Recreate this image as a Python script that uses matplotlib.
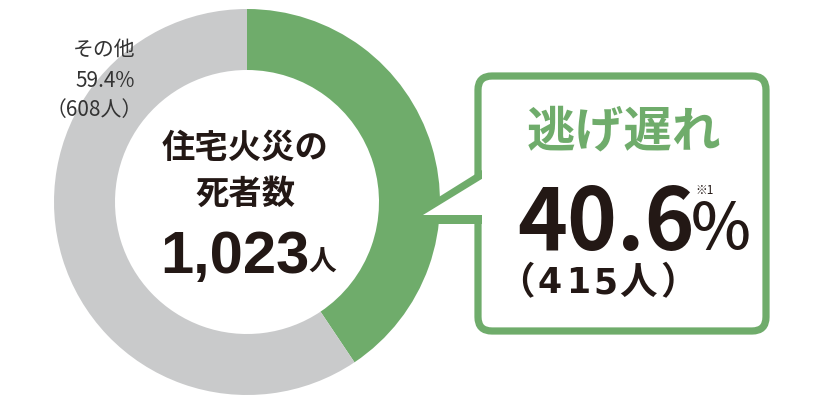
import matplotlib
matplotlib.use('Agg')
import matplotlib.pyplot as plt
from matplotlib.patches import FancyBboxPatch, Polygon

plt.rcParams['font.family'] = ['Noto Sans CJK JP', 'DejaVu Sans']

# data
labels = ['逃げ遅れ', 'その他']
shares = [40.6, 59.4]
counts = [415, 608]
total = 1023
title_lines = ['住宅火災の', '死者数']

green = '#6fac6b'
grey = '#c9cacb'
ink = '#231815'

W, H = 816, 400
fig = plt.figure(figsize=(W / 100, H / 100), dpi=100)
ax = fig.add_axes([0, 0, 1, 1])


def Y(y):
    # pixel row from the top -> data y
    return H - y


# donut
ax.pie(shares, colors=[green, grey], startangle=90, counterclock=False,
       radius=193, center=(247, Y(202)),
       wedgeprops=dict(width=61, linewidth=0))

ax.set_xlim(0, W)
ax.set_ylim(0, H)
ax.set_aspect('equal')
ax.axis('off')

# callout box
box = FancyBboxPatch((478, Y(331)), 766 - 478, 331 - 76,
                     boxstyle='round,pad=0,rounding_size=14',
                     facecolor='white', edgecolor=green, linewidth=5.2, zorder=3)
ax.add_patch(box)
# pointer
ax.add_patch(Polygon([(482, Y(170)), (410, Y(215)), (410, Y(224)), (482, Y(224))],
                     closed=True, facecolor=green, edgecolor='none', zorder=4))
ax.add_patch(Polygon([(485, Y(177)), (423, Y(215)), (485, Y(215))],
                     closed=True, facecolor='white', edgecolor='none', zorder=5))

# "other" label
ax.text(135, Y(50), labels[1], ha='right', va='center', fontsize=15, color='#333333')
ax.text(135, Y(81), f'{shares[1]}%', ha='right', va='center', fontsize=15, color='#333333')
ax.text(143, Y(110), f'（{counts[1]}人）', ha='right', va='center', fontsize=15, color='#333333')

# centre text
ax.text(245, Y(148), title_lines[0], ha='center', va='center', fontsize=24,
        fontweight='bold', color=ink)
ax.text(245, Y(194), title_lines[1], ha='center', va='center', fontsize=24,
        fontweight='bold', color=ink)
ax.text(310, Y(273), f'{total:,}', ha='right', va='baseline', fontsize=43,
        fontweight='bold', family='Liberation Sans', color=ink)
ax.text(308, Y(271), '人', ha='left', va='baseline', fontsize=20,
        fontweight='bold', color=ink)

# callout text
ax.text(624, Y(132), labels[0], ha='center', va='center', fontsize=35,
        fontweight='bold', color=green, zorder=6)
ax.text(517, Y(250), f'{shares[0]}', ha='left', va='baseline', fontsize=61,
        fontweight='bold', color=ink, zorder=6)
ax.text(691, Y(249), '%', ha='left', va='baseline', fontsize=46,
        fontweight='medium', color=ink, zorder=6)
ax.text(695, Y(190), '※1', ha='left', va='center', fontsize=8.5,
        color=ink, zorder=6)

# "（415人）" with the wide letter spacing of the reference
sub = f'（{counts[0]}人）'
sub_x = [535, 550, 578, 605, 638, 660]
sub_ha = ['right', 'center', 'center', 'center', 'center', 'left']
for ch, x, ha in zip(sub, sub_x, sub_ha):
    if ch.isdigit():
        ax.text(x, Y(293), ch, ha=ha, va='baseline', fontsize=25,
                fontweight='bold', family='DejaVu Sans', color=ink, zorder=6)
    else:
        ax.text(x, Y(283), ch, ha=ha, va='center', fontsize=27,
                fontweight='bold', color=ink, zorder=6)

fig.savefig('out.png', dpi=100)
